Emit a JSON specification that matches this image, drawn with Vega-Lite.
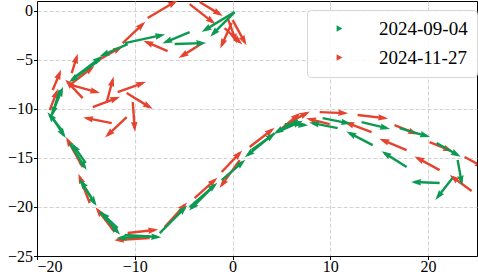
{
  "$schema": "https://vega.github.io/schema/vega-lite/v6.json",
  "width": 440,
  "height": 255,
  "autosize": {"type": "none"},
  "padding": {"left": 37, "top": 1, "right": 1, "bottom": 19},
  "background": "white",
  "data": {
    "values": [
      {"date": "2024-09-04", "x": 0.21, "y": -0.13, "x2": -2.85, "y2": -1.97},
      {"date": "2024-09-04", "x": 0.21, "y": -0.13, "x2": -2.03, "y2": -2.38},
      {"date": "2024-09-04", "x": -4.39, "y": -2.17, "x2": -6.84, "y2": -3.19},
      {"date": "2024-09-04", "x": -5.92, "y": -3.39, "x2": -3.06, "y2": -3.29},
      {"date": "2024-09-04", "x": -11.03, "y": -3.29, "x2": -7.25, "y2": -2.48},
      {"date": "2024-09-04", "x": -10.73, "y": -3.39, "x2": -13.28, "y2": -4.52},
      {"date": "2024-09-04", "x": -16.15, "y": -6.76, "x2": -13.59, "y2": -4.82},
      {"date": "2024-09-04", "x": -13.59, "y": -5.03, "x2": -16.45, "y2": -7.06},
      {"date": "2024-09-04", "x": -17.68, "y": -8.08, "x2": -18.39, "y2": -10.43},
      {"date": "2024-09-04", "x": -18.5, "y": -10.63, "x2": -17.47, "y2": -8.08},
      {"date": "2024-09-04", "x": -18.39, "y": -10.94, "x2": -17.27, "y2": -12.67},
      {"date": "2024-09-04", "x": -17.47, "y": -12.16, "x2": -18.7, "y2": -10.63},
      {"date": "2024-09-04", "x": -16.66, "y": -13.49, "x2": -15.12, "y2": -15.93},
      {"date": "2024-09-04", "x": -15.02, "y": -15.52, "x2": -16.25, "y2": -13.79},
      {"date": "2024-09-04", "x": -15.63, "y": -17.26, "x2": -14.1, "y2": -19.6},
      {"date": "2024-09-04", "x": -14.41, "y": -19.09, "x2": -15.43, "y2": -17.46},
      {"date": "2024-09-04", "x": -13.59, "y": -20.52, "x2": -11.75, "y2": -22.56},
      {"date": "2024-09-04", "x": -11.75, "y": -22.15, "x2": -13.28, "y2": -20.72},
      {"date": "2024-09-04", "x": -11.03, "y": -22.86, "x2": -7.66, "y2": -23.07},
      {"date": "2024-09-04", "x": -8.48, "y": -22.97, "x2": -11.54, "y2": -23.17},
      {"date": "2024-09-04", "x": -7.45, "y": -22.66, "x2": -4.9, "y2": -20.11},
      {"date": "2024-09-04", "x": -4.39, "y": -20.01, "x2": -1.83, "y2": -17.77},
      {"date": "2024-09-04", "x": -2.14, "y": -18.07, "x2": -4.18, "y2": -20.11},
      {"date": "2024-09-04", "x": -1.11, "y": -17.26, "x2": 1.03, "y2": -15.42},
      {"date": "2024-09-04", "x": 4.3, "y": -12.47, "x2": 1.54, "y2": -14.71},
      {"date": "2024-09-04", "x": 1.95, "y": -14.2, "x2": 4.1, "y2": -12.67},
      {"date": "2024-09-04", "x": 6.66, "y": -11.14, "x2": 4.51, "y2": -12.37},
      {"date": "2024-09-04", "x": 5.02, "y": -12.16, "x2": 6.86, "y2": -11.35},
      {"date": "2024-09-04", "x": 5.33, "y": -11.55, "x2": 7.37, "y2": -11.65},
      {"date": "2024-09-04", "x": 10.75, "y": -11.96, "x2": 8.19, "y2": -11.45},
      {"date": "2024-09-04", "x": 9.21, "y": -10.94, "x2": 11.77, "y2": -11.45},
      {"date": "2024-09-04", "x": 13.2, "y": -11.35, "x2": 15.76, "y2": -11.96},
      {"date": "2024-09-04", "x": 14.33, "y": -13.69, "x2": 11.97, "y2": -12.47},
      {"date": "2024-09-04", "x": 17.09, "y": -11.96, "x2": 19.85, "y2": -12.77},
      {"date": "2024-09-04", "x": 17.8, "y": -15.93, "x2": 15.55, "y2": -14.51},
      {"date": "2024-09-04", "x": 20.87, "y": -13.49, "x2": 23.02, "y2": -14.71},
      {"date": "2024-09-04", "x": 23.02, "y": -15.22, "x2": 23.42, "y2": -17.46},
      {"date": "2024-09-04", "x": 21.18, "y": -17.56, "x2": 18.62, "y2": -17.46},
      {"date": "2024-09-04", "x": 22.5, "y": -17.05, "x2": 20.97, "y2": -18.99},
      {"date": "2024-11-27", "x": -8.68, "y": -0.74, "x2": -5.92, "y2": 0.89},
      {"date": "2024-11-27", "x": -11.24, "y": -3.29, "x2": -9.19, "y2": -1.36},
      {"date": "2024-11-27", "x": -6.64, "y": -4.11, "x2": -8.78, "y2": -3.19},
      {"date": "2024-11-27", "x": -3.06, "y": -3.29, "x2": -5.2, "y2": -4.62},
      {"date": "2024-11-27", "x": -3.36, "y": 0.89, "x2": -1.32, "y2": -0.34},
      {"date": "2024-11-27", "x": -4.39, "y": 0.68, "x2": -2.03, "y2": -1.15},
      {"date": "2024-11-27", "x": 0.01, "y": -0.95, "x2": 1.24, "y2": -3.19},
      {"date": "2024-11-27", "x": -0.09, "y": -1.25, "x2": -1.11, "y2": -3.5},
      {"date": "2024-11-27", "x": -0.81, "y": -1.76, "x2": 0.73, "y2": -3.19},
      {"date": "2024-11-27", "x": -0.5, "y": -0.74, "x2": 0.32, "y2": -2.99},
      {"date": "2024-11-27", "x": -14.1, "y": -5.23, "x2": -11.54, "y2": -3.8},
      {"date": "2024-11-27", "x": -16.66, "y": -7.57, "x2": -14.41, "y2": -5.84},
      {"date": "2024-11-27", "x": -16.45, "y": -6.35, "x2": -15.94, "y2": -4.72},
      {"date": "2024-11-27", "x": -18.39, "y": -8.08, "x2": -17.68, "y2": -6.35},
      {"date": "2024-11-27", "x": -15.33, "y": -8.9, "x2": -16.86, "y2": -7.27},
      {"date": "2024-11-27", "x": -16.45, "y": -7.57, "x2": -13.9, "y2": -8.29},
      {"date": "2024-11-27", "x": -12.87, "y": -9.31, "x2": -12.26, "y2": -7.06},
      {"date": "2024-11-27", "x": -14.3, "y": -9.82, "x2": -11.85, "y2": -8.9},
      {"date": "2024-11-27", "x": -11.75, "y": -8.29, "x2": -9.19, "y2": -7.37},
      {"date": "2024-11-27", "x": -10.83, "y": -8.39, "x2": -8.48, "y2": -9.82},
      {"date": "2024-11-27", "x": -12.36, "y": -11.45, "x2": -14.92, "y2": -10.94},
      {"date": "2024-11-27", "x": -10.83, "y": -10.84, "x2": -12.77, "y2": -12.67},
      {"date": "2024-11-27", "x": -10.21, "y": -9.31, "x2": -10.01, "y2": -11.96},
      {"date": "2024-11-27", "x": -18.7, "y": -10.12, "x2": -17.99, "y2": -8.29},
      {"date": "2024-11-27", "x": -15.33, "y": -15.93, "x2": -16.86, "y2": -13.18},
      {"date": "2024-11-27", "x": -14.61, "y": -19.6, "x2": -15.63, "y2": -16.95},
      {"date": "2024-11-27", "x": -12.06, "y": -22.56, "x2": -13.79, "y2": -20.32},
      {"date": "2024-11-27", "x": -10.73, "y": -22.66, "x2": -7.97, "y2": -22.35},
      {"date": "2024-11-27", "x": -8.48, "y": -23.17, "x2": -11.75, "y2": -23.37},
      {"date": "2024-11-27", "x": -6.94, "y": -22.05, "x2": -4.9, "y2": -19.81},
      {"date": "2024-11-27", "x": -3.88, "y": -19.09, "x2": -1.83, "y2": -17.26},
      {"date": "2024-11-27", "x": -1.11, "y": -16.44, "x2": 0.73, "y2": -14.51},
      {"date": "2024-11-27", "x": 0.73, "y": -15.22, "x2": -1.11, "y2": -17.77},
      {"date": "2024-11-27", "x": 1.75, "y": -13.89, "x2": 4.0, "y2": -12.16},
      {"date": "2024-11-27", "x": 4.82, "y": -12.16, "x2": 6.66, "y2": -10.63},
      {"date": "2024-11-27", "x": 5.84, "y": -11.35, "x2": 7.58, "y2": -10.43},
      {"date": "2024-11-27", "x": 8.91, "y": -10.33, "x2": 11.46, "y2": -10.43},
      {"date": "2024-11-27", "x": 9.93, "y": -11.55, "x2": 7.88, "y2": -11.04},
      {"date": "2024-11-27", "x": 14.22, "y": -12.37, "x2": 11.77, "y2": -11.45},
      {"date": "2024-11-27", "x": 12.79, "y": -10.63, "x2": 15.55, "y2": -10.94},
      {"date": "2024-11-27", "x": 16.57, "y": -11.65, "x2": 18.62, "y2": -12.47},
      {"date": "2024-11-27", "x": 17.8, "y": -14.2, "x2": 15.35, "y2": -13.18},
      {"date": "2024-11-27", "x": 20.15, "y": -13.38, "x2": 22.2, "y2": -14.2},
      {"date": "2024-11-27", "x": 23.73, "y": -14.91, "x2": 25.47, "y2": -15.83},
      {"date": "2024-11-27", "x": 21.18, "y": -16.24, "x2": 18.93, "y2": -15.02},
      {"date": "2024-11-27", "x": 24.45, "y": -18.38, "x2": 22.5, "y2": -16.95}
    ]
  },
  "transform": [
    {"calculate": "atan2(datum.y - datum.y2, datum.x2 - datum.x) * 180 / PI", "as": "angle"}
  ],
  "encoding": {
    "x": {"field": "x", "type": "quantitative", "scale": {"domain": [-20, 25], "nice": false, "zero": false},
          "axis": {"values": [-20, -10, 0, 10, 20], "title": null, "labelBaseline": "alphabetic", "labelPadding": 12}},
    "y": {"field": "y", "type": "quantitative", "scale": {"domain": [-25, 1], "nice": false, "zero": false},
          "axis": {"values": [-25, -20, -15, -10, -5, 0], "title": null}},
    "color": {"field": "date", "type": "nominal",
              "scale": {"domain": ["2024-09-04", "2024-11-27"], "range": ["#0c9a52", "#e5432d"]},
              "legend": {"orient": "none", "legendX": 270, "legendY": 9, "title": null,
                         "symbolType": "triangle-right", "symbolSize": 45, "symbolStrokeWidth": 0}}
  },
  "layer": [
    {
      "transform": [{"filter": "datum.date === '2024-11-27'"}],
      "mark": {"type": "rule", "strokeWidth": 2.4, "strokeCap": "butt", "clip": true},
      "encoding": {"x2": {"field": "x2"}, "y2": {"field": "y2"}}
    },
    {
      "transform": [{"filter": "datum.date === '2024-11-27'"}],
      "mark": {"type": "point", "filled": true, "opacity": 1, "strokeWidth": 0, "clip": true,
               "shape": "M1.0,0L-1.8,-0.9L-1.5,0L-1.8,0.9Z", "size": 52},
      "encoding": {
        "x": {"field": "x2", "type": "quantitative"},
        "y": {"field": "y2", "type": "quantitative"},
        "angle": {"field": "angle", "type": "quantitative", "scale": null}
      }
    },
    {
      "transform": [{"filter": "datum.date === '2024-09-04'"}],
      "mark": {"type": "rule", "strokeWidth": 2.4, "strokeCap": "butt", "clip": true},
      "encoding": {"x2": {"field": "x2"}, "y2": {"field": "y2"}}
    },
    {
      "transform": [{"filter": "datum.date === '2024-09-04'"}],
      "mark": {"type": "point", "filled": true, "opacity": 1, "strokeWidth": 0, "clip": true,
               "shape": "M1.0,0L-1.8,-0.9L-1.5,0L-1.8,0.9Z", "size": 52},
      "encoding": {
        "x": {"field": "x2", "type": "quantitative"},
        "y": {"field": "y2", "type": "quantitative"},
        "angle": {"field": "angle", "type": "quantitative", "scale": null}
      }
    }
  ],
  "config": {
    "view": {"stroke": "#000", "strokeWidth": 1},
    "axis": {
      "labelFont": "Liberation Serif", "labelFontSize": 16, "labelColor": "#000",
      "domainColor": "#000", "domainWidth": 1, "tickColor": "#000", "tickSize": 3.5, "tickWidth": 1,
      "gridColor": "#c8c8c8", "gridDash": [4, 2], "gridWidth": 0.8, "labelPadding": 1
    },
    "legend": {
      "symbolType": "triangle-right",
      "labelFont": "Liberation Serif", "labelFontSize": 19, "labelColor": "#000",
      "labelOffset": 30, "symbolOffset": 14, "rowPadding": 9, "padding": 9,
      "fillColor": "rgba(255,255,255,0.85)", "strokeColor": "#d6d6d6", "cornerRadius": 4
    }
  }
}
